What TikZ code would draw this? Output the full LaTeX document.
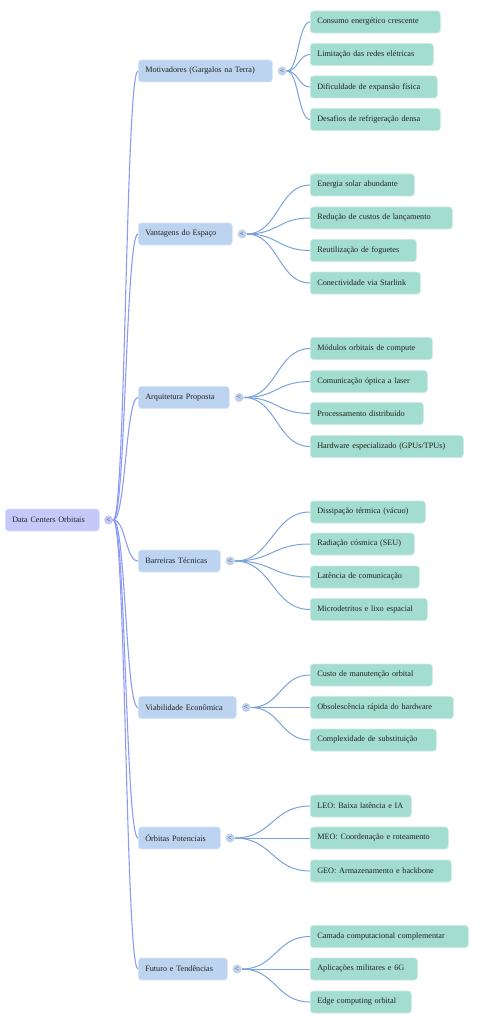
\documentclass[tikz,border=0pt]{standalone}
\usepackage{fontspec}
\setmainfont{Liberation Serif}
\usetikzlibrary{calc}
\definecolor{rootfill}{RGB}{196,201,250}
\definecolor{lonefill}{RGB}{188,212,240}
\definecolor{ltwofill}{RGB}{163,221,208}
\definecolor{rootlink}{RGB}{140,156,246}
\definecolor{lonelink}{RGB}{122,163,222}
\definecolor{rootdot}{RGB}{196,200,242}
\definecolor{lonedot}{RGB}{190,210,238}
\definecolor{txt}{RGB}{34,34,34}
\tikzset{
  boxbase/.style={rectangle, rounded corners=3pt, anchor=west, minimum height=22pt,
    inner xsep=7pt, inner ysep=0pt, align=left, text=txt, font=\fontsize{8.2}{9}\selectfont},
  rootbox/.style={boxbase, fill=rootfill, draw=rootfill!60!white, line width=0.6pt},
  onebox/.style={boxbase, fill=lonefill, draw=lonefill!60!white, line width=0.6pt},
  twobox/.style={boxbase, fill=ltwofill, draw=ltwofill!60!white, line width=0.6pt},
  rdot/.style={circle, fill=rootdot, minimum size=9pt, inner sep=0pt, text=txt!85, font=\fontsize{7.5}{7.5}\selectfont},
  odot/.style={circle, fill=lonedot, minimum size=9pt, inner sep=0pt, text=txt!85, font=\fontsize{7.5}{7.5}\selectfont},
  rlink/.style={draw=rootlink, line width=1.1pt},
  olink/.style={draw=lonelink, line width=1pt},
}
\newcommand\linkto[3]{\draw[#1] let \p1=(#2), \p2=(#3) in (\p1) .. controls +({(\x2-\x1)/2},0) and +({(\x1-\x2)/2},0) .. (\p2);}
\newcommand\wbox[4]{\node[#1, text width=#2pt-14pt] (#3) at (#4)}
\begin{document}
\begin{tikzpicture}[x=1pt,y=-1pt]
\useasboundingbox (0,0) rectangle (487,1024);
% root
\wbox{rootbox}{94}{root}{5,520} {Data Centers Orbitais};
\node[rdot] (c0) at ([xshift=9pt]root.east) {<};
% level 1
\wbox{onebox}{134}{m1}{138,71} {Motivadores (Gargalos na Terra)};
\wbox{onebox}{94}{m2}{138,234} {Vantagens do Espaço};
\wbox{onebox}{91}{m3}{138,397.5} {Arquitetura Proposta};
\wbox{onebox}{82}{m4}{138,561} {Barreiras Técnicas};
\wbox{onebox}{98}{m5}{138,707.5} {Viabilidade Econômica};
\wbox{onebox}{82}{m6}{138,838} {Órbitas Potenciais};
\wbox{onebox}{89}{m7}{138,969} {Futuro e Tendências};
\foreach \i in {1,...,7} {\node[odot] (c\i) at ([xshift=9.5pt]m\i.east) {<};}
% level 2
\wbox{twobox}{130}{a1}{310,22} {Consumo energético crescente};
\wbox{twobox}{123}{a2}{310,54.5} {Limitação das redes elétricas};
\wbox{twobox}{127}{a3}{310,87} {Dificuldade de expansão física};
\wbox{twobox}{130}{a4}{310,119.5} {Desafios de refrigeração densa};
\wbox{twobox}{104}{b1}{310,185} {Energia solar abundante};
\wbox{twobox}{142}{b2}{310,218} {Redução de custos de lançamento};
\wbox{twobox}{106}{b3}{310,250.5} {Reutilização de foguetes};
\wbox{twobox}{110}{b4}{310,283} {Conectividade via Starlink};
\wbox{twobox}{122}{d1}{310,348.5} {Módulos orbitais de compute};
\wbox{twobox}{117}{d2}{310,381.5} {Comunicação óptica a laser};
\wbox{twobox}{113}{d3}{310,413.5} {Processamento distribuído};
\wbox{twobox}{153}{d4}{310,446.5} {Hardware especializado (GPUs/TPUs)};
\wbox{twobox}{115}{e1}{310,512} {Dissipação térmica (vácuo)};
\wbox{twobox}{104}{e2}{310,544} {Radiação cósmica (SEU)};
\wbox{twobox}{109}{e3}{310,577} {Latência de comunicação};
\wbox{twobox}{117}{e4}{310,609.5} {Microdetritos e lixo espacial};
\wbox{twobox}{122}{f1}{310,675} {Custo de manutenção orbital};
\wbox{twobox}{143}{f2}{310,707.5} {Obsolescência rápida do hardware};
\wbox{twobox}{126}{f3}{310,740} {Complexidade de substituição};
\wbox{twobox}{101}{g1}{310,806} {LEO: Baixa latência e IA};
\wbox{twobox}{138}{g2}{310,838} {MEO: Coordenação e roteamento};
\wbox{twobox}{141}{g3}{310,871} {GEO: Armazenamento e backbone};
\wbox{twobox}{158}{h1}{310,936.5} {Camada computacional complementar};
\wbox{twobox}{107}{h2}{310,969} {Aplicações militares e 6G};
\wbox{twobox}{101}{h3}{310,1002} {Edge computing orbital};
% links
\foreach \i in {1,...,7} {\linkto{rlink}{c0.east}{m\i.west}}
\foreach \j in {a1,a2,a3,a4} {\linkto{olink}{c1.east}{\j.west}}
\foreach \j in {b1,b2,b3,b4} {\linkto{olink}{c2.east}{\j.west}}
\foreach \j in {d1,d2,d3,d4} {\linkto{olink}{c3.east}{\j.west}}
\foreach \j in {e1,e2,e3,e4} {\linkto{olink}{c4.east}{\j.west}}
\foreach \j in {f1,f2,f3} {\linkto{olink}{c5.east}{\j.west}}
\foreach \j in {g1,g2,g3} {\linkto{olink}{c6.east}{\j.west}}
\foreach \j in {h1,h2,h3} {\linkto{olink}{c7.east}{\j.west}}
\end{tikzpicture}
\end{document}
